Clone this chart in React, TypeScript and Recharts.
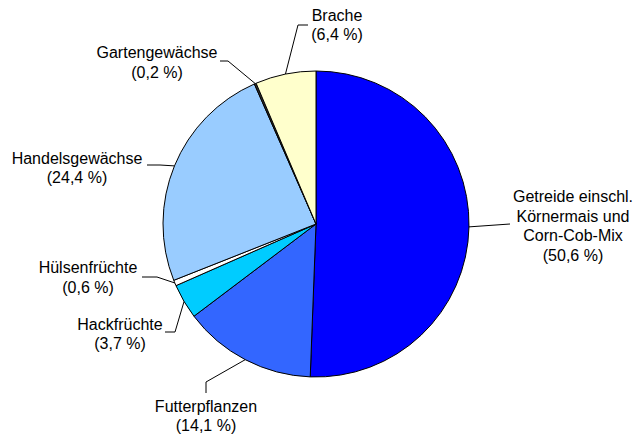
import { PieChart, Pie, Cell } from 'recharts';

const NAMES = [
  ['Getreide einschl.', 'Körnermais und', 'Corn-Cob-Mix'],
  ['Futterpflanzen'],
  ['Hackfrüchte'],
  ['Hülsenfrüchte'],
  ['Handelsgewächse'],
  ['Gartengewächse'],
  ['Brache'],
];
const SHARES = [50.6, 14.1, 3.7, 0.6, 24.4, 0.2, 6.4];
const COLORS = ['#0000ff', '#3366ff', '#00ccff', '#ffffff', '#99ccff', '#333333', '#ffffcc'];

// label block centre + leader line bend points (page px)
const LABEL_POS = [
  { x: 573, y: 226, pts: [[510, 224]] },
  { x: 206, y: 416, pts: [[206, 382], [206, 393]] },
  { x: 120, y: 334, pts: [[175, 332], [165, 332]] },
  { x: 88, y: 277.5, pts: [[157, 277], [142, 277]] },
  { x: 77, y: 168, pts: [[160, 165], [147, 165]] },
  { x: 157, y: 62.5, pts: [[228, 61], [220, 61]] },
  { x: 337, y: 25, pts: [[298, 25], [308, 25]] },
];

const data = NAMES.map((lines, i) => ({ name: lines.join(' '), value: SHARES[i] }));

const LINE_H = 19.5;
const RAD = Math.PI / 180;

function SliceLabel(props: any) {
  const { cx, cy, midAngle, outerRadius, index } = props;
  const pos = LABEL_POS[index];
  const ex = cx + outerRadius * Math.cos(-midAngle * RAD);
  const ey = cy + outerRadius * Math.sin(-midAngle * RAD);
  const lines = [...NAMES[index], `(${SHARES[index].toFixed(1).replace('.', ',')} %)`];
  const top = pos.y - ((lines.length - 1) * LINE_H) / 2;
  const pts = [[ex, ey], ...pos.pts].map((p) => p.join(',')).join(' ');
  return (
    <g>
      <polyline points={pts} fill="none" stroke="#000" strokeWidth={1} />
      {lines.map((t, i) => (
        <text
          key={i}
          x={pos.x}
          y={top + i * LINE_H}
          textAnchor="middle"
          dominantBaseline="central"
          fontSize={16}
          fontFamily="'Liberation Sans', Arial, sans-serif"
          fill="#000"
        >
          {t}
        </text>
      ))}
    </g>
  );
}

export default function App() {
  return (
    <div style={{ position: 'absolute', left: 0, top: 0, background: '#fff' }}>
      <PieChart width={637} height={437} margin={{ top: 0, right: 0, bottom: 0, left: 0 }}>
        <Pie
          data={data}
          dataKey="value"
          cx={316}
          cy={224}
          outerRadius={153}
          startAngle={90}
          endAngle={-270}
          stroke="#000"
          strokeWidth={1}
          label={SliceLabel}
          labelLine={false}
          isAnimationActive={false}
        >
          {data.map((_, i) => (
            <Cell key={i} fill={COLORS[i]} />
          ))}
        </Pie>
      </PieChart>
    </div>
  );
}
